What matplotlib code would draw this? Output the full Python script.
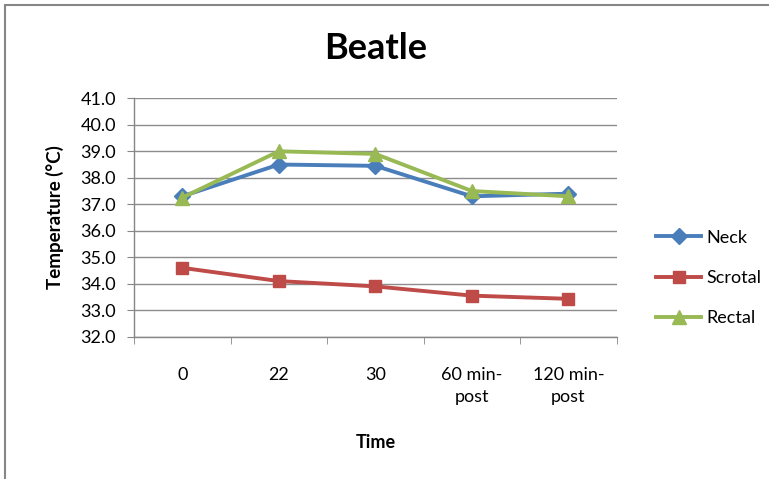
import matplotlib
matplotlib.use("Agg")
import matplotlib.pyplot as plt
from matplotlib.patches import Rectangle

categories = ["0", "22", "30", "60 min-\npost", "120 min-\npost"]
neck = [37.3, 38.5, 38.45, 37.3, 37.4]
scrotal = [34.6, 34.1, 33.9, 33.55, 33.43]
rectal = [37.25, 39.0, 38.9, 37.5, 37.3]
yticks = [32.0, 33.0, 34.0, 35.0, 36.0, 37.0, 38.0, 39.0, 40.0, 41.0]

plt.rcParams['font.family'] = ['Lato', 'DejaVu Sans']

fig = plt.figure(figsize=(7.69, 4.79), dpi=100)
ax = fig.add_axes([134/769, 1-336.7/479, (616.7-134)/769, (336.7-98.3)/479])

# border
fig.add_artist(Rectangle((5/769, -0.1), 1.1, 1-5/479+0.1, transform=fig.transFigure,
                         fill=False, edgecolor='#868686', linewidth=1.5))

x = list(range(len(categories)))
ax.plot(x, neck, color='#4A7EBB', lw=2.8, marker='D', ms=8, label='Neck', zorder=3)
ax.plot(x, scrotal, color='#BE4B48', lw=2.8, marker='s', ms=9, label='Scrotal', zorder=3)
ax.plot(x, rectal, color='#98B954', lw=2.8, marker='^', ms=10, label='Rectal', zorder=3)

ax.set_ylim(32, 41)
ax.set_yticks(yticks)
ax.set_yticklabels([f"{v:.1f}" for v in yticks], fontsize=13)
ax.set_xlim(-0.5, 4.5)
ax.set_xticks(x)
ax.set_xticklabels(categories, fontsize=13, linespacing=1.45)
ax.tick_params(axis='x', length=0, pad=22)
ax.set_xticks([i - 0.5 for i in range(len(categories) + 1)], minor=True)
ax.tick_params(axis='x', which='minor', length=5, color='#868686')
ax.tick_params(axis='y', length=5, color='#868686', pad=8)

ax.grid(axis='y', color='#8c8c8c', lw=1)
ax.set_axisbelow(True)
for s in ['top', 'right']:
    ax.spines[s].set_visible(False)
for s in ['left', 'bottom']:
    ax.spines[s].set_color('#868686')
    ax.spines[s].set_linewidth(1)

ax.set_title("Beatle", fontsize=26, fontweight='bold', pad=28)
ax.set_xlabel("Time", fontsize=13, fontweight='bold', labelpad=21)
ax.set_ylabel("Temperature (°C)", fontsize=13.5, fontweight='bold', labelpad=12)

leg = fig.legend(handles=ax.get_lines(), loc='center left',
                 bbox_to_anchor=(640/769, 1-278/479), frameon=False,
                 fontsize=13, handlelength=2.5, labelspacing=1.35, handletextpad=0.3)

fig.savefig("out.png", dpi=100)
